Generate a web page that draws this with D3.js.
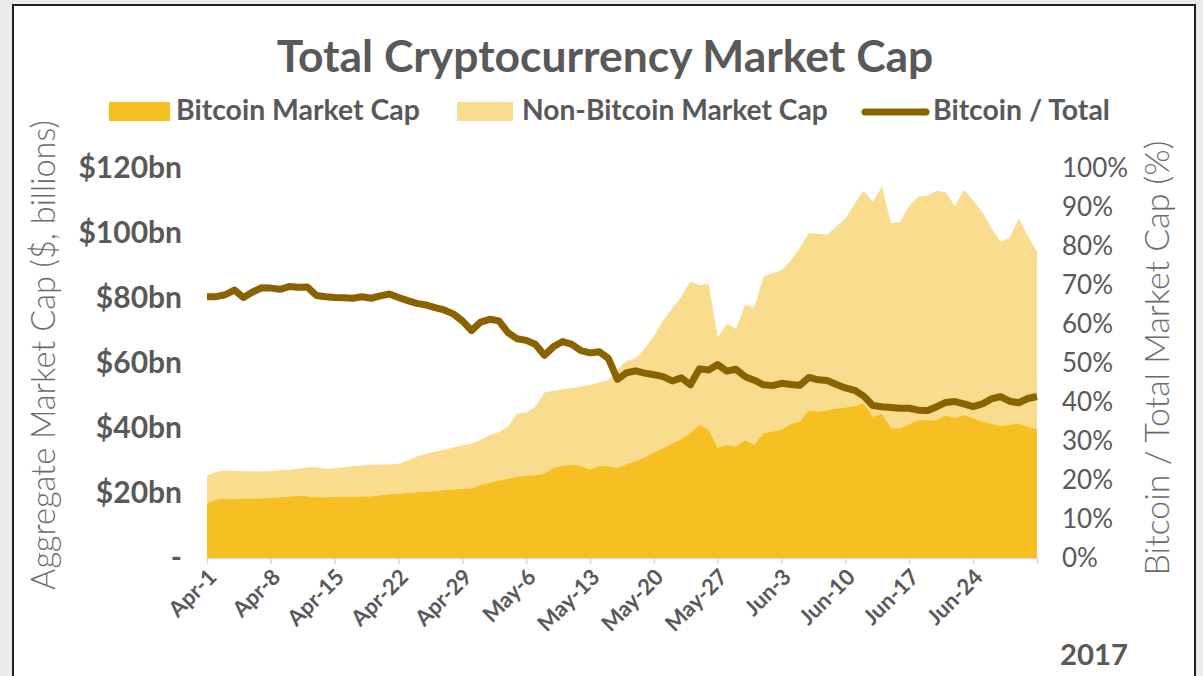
<!DOCTYPE html>
<html>
<head>
<meta charset="utf-8">
<script src="https://cdn.jsdelivr.net/npm/d3@7"></script>
<style>
  html, body { margin: 0; padding: 0; background: #ebebeb; }
  svg { display: block; }
  text { font-family: Lato, "Open Sans", sans-serif; fill: #595959; }
</style>
</head>
<body>
<svg width="1203" height="676"></svg>
<script>
// daily values, Apr-1 2017 .. Jul-1 2017
const startDay = "2017-04-01";

const bitcoinCap = [
  16.8, 18.0, 18.2, 18.2, 18.3, 18.3, 18.4, 18.5, 18.7, 18.9,
  19.1, 19.0, 18.7, 18.7, 18.8, 18.8, 18.8, 18.9, 19.0, 19.3,
  19.6, 19.8, 20.1, 20.2, 20.4, 20.6, 20.9, 21.1, 21.3, 21.5,
  22.5, 23.2, 23.8, 24.4, 25.0, 25.3, 25.5, 26.0, 27.8, 28.4,
  28.8, 28.3, 27.2, 28.3, 28.2, 27.7, 28.9, 29.8, 31.0, 32.5,
  33.8, 35.2, 36.6, 38.5, 41.0, 39.4, 34.0, 34.8, 34.3, 36.3,
  34.8, 38.4, 38.9, 39.5, 41.2, 42.0, 45.5, 45.0, 45.5, 46.0,
  46.3, 46.8, 47.6, 43.5, 44.5, 39.9, 39.9, 41.2, 42.5, 42.4,
  42.4, 44.0, 43.0, 44.0, 43.0, 42.0, 41.3, 40.6, 41.0, 41.4,
  40.4, 39.6
];

const totalCap = [
  25.5, 26.5, 26.9, 26.8, 26.7, 26.7, 26.6, 26.8, 27.0, 27.1,
  27.5, 27.9, 28.0, 27.4, 27.6, 27.9, 28.2, 28.5, 28.7, 28.8,
  28.8, 29.0, 30.0, 31.2, 32.0, 32.7, 33.3, 34.0, 34.7, 35.2,
  36.3, 37.8, 38.8, 40.5, 44.5, 44.8, 46.5, 50.9, 51.5, 51.9,
  52.3, 52.7, 53.2, 54.0, 54.7, 58.0, 60.6, 61.5, 64.5, 68.3,
  73.0, 76.8, 80.5, 85.0, 84.0, 84.3, 68.0, 72.0, 70.5, 78.0,
  77.0, 86.5, 87.6, 88.5, 91.5, 95.5, 100.0, 99.8, 99.5, 102.0,
  104.5, 109.0, 113.0, 109.5, 114.2, 103.0, 103.5, 108.5, 111.2, 111.5,
  113.0, 112.5, 108.3, 113.2, 110.0, 106.5, 101.5, 97.3, 98.5, 104.5,
  99.0, 94.2
];

const bitcoinShare = [
  67.0, 67.0, 67.5, 68.7, 66.8, 68.2, 69.3, 69.2, 68.9, 69.6,
  69.4, 69.5, 67.3, 67.0, 66.8, 66.7, 66.6, 67.0, 66.6, 67.2,
  67.7, 66.8, 66.0, 65.3, 64.9, 64.2, 63.6, 62.6, 60.8, 58.3,
  60.5, 61.2, 60.8, 57.8, 56.2, 55.8, 54.8, 52.0, 54.2, 55.5,
  54.8, 53.2, 52.6, 52.9, 51.2, 45.8, 47.5, 48.0, 47.4, 47.0,
  46.5, 45.4, 46.2, 44.4, 48.5, 48.2, 49.6, 47.9, 48.4, 46.5,
  45.6, 44.4, 44.2, 44.8, 44.5, 44.3, 46.3, 45.7, 45.5, 44.5,
  43.6, 43.0, 41.5, 39.1, 38.8, 38.6, 38.4, 38.4, 37.9, 37.8,
  38.8, 39.9, 40.1, 39.5, 38.8, 39.5, 40.8, 41.4, 40.2, 39.8,
  40.9, 41.4
];

const xTickLabels = ["Apr-1", "Apr-8", "Apr-15", "Apr-22", "Apr-29", "May-6", "May-13",
                     "May-20", "May-27", "Jun-3", "Jun-10", "Jun-17", "Jun-24", ""];
const leftTicks = [0, 20, 40, 60, 80, 100, 120];
const rightTicks = [0, 10, 20, 30, 40, 50, 60, 70, 80, 90, 100];
const legendNames = ["Bitcoin Market Cap", "Non-Bitcoin Market Cap", "Bitcoin / Total"];

const btcColor = "#f6bf22";
const altColor = "#f9dc8e";
const lineColor = "#8a6200";

const svg = d3.select("svg");

// white panel with dark frame
svg.append("rect")
  .attr("x", 13).attr("y", 5)
  .attr("width", 1182).attr("height", 700)
  .attr("fill", "#fff")
  .attr("stroke", "#1e1e1e")
  .attr("stroke-width", 2);

const parse = d3.timeParse("%Y-%m-%d");
const day0 = parse(startDay);
const rows = bitcoinCap.map((b, i) => ({
  date: d3.timeDay.offset(day0, i),
  btc: b,
  total: totalCap[i],
  share: bitcoinShare[i]
}));

const x = d3.scaleTime()
  .domain(d3.extent(rows, d => d.date))
  .range([207, 1037]);
const y = d3.scaleLinear().domain([0, 120]).range([558, 168]);
const yR = d3.scaleLinear().domain([0, 100]).range([558, 168]);

// areas
const g = svg.append("g");
g.append("path")
  .datum(rows)
  .attr("fill", altColor)
  .attr("d", d3.area().x(d => x(d.date)).y0(d => y(d.btc)).y1(d => y(d.total)));
g.append("path")
  .datum(rows)
  .attr("fill", btcColor)
  .attr("d", d3.area().x(d => x(d.date)).y0(y(0)).y1(d => y(d.btc)));

// x axis
const xTicks = xTickLabels.map((t, i) => d3.timeDay.offset(day0, i * 7));
const xAxis = svg.append("g")
  .attr("transform", "translate(0,558)")
  .call(d3.axisBottom(x).tickValues(xTicks).tickSize(6).tickSizeOuter(0)
    .tickFormat((d, i) => xTickLabels[i]));
xAxis.select(".domain").attr("stroke", "#d9d9d9").attr("stroke-width", 1.5);
xAxis.selectAll(".tick line").attr("stroke", "#d9d9d9").attr("stroke-width", 1.5);
xAxis.selectAll(".tick text")
  .attr("text-anchor", "end")
  .attr("transform", "translate(5,15) rotate(-45)")
  .attr("dy", "0.35em")
  .attr("y", 0)
  .attr("x", 0)
  .style("font-size", "22px")
  .style("font-weight", 700)
  .style("fill", "#595959");

// left axis
const yAxis = svg.append("g")
  .attr("transform", "translate(207,0)")
  .call(d3.axisLeft(y).tickValues(leftTicks).tickSize(0).tickPadding(25)
    .tickFormat(d => d === 0 ? "-" : "$" + d + "bn"));
yAxis.select(".domain").remove();
yAxis.selectAll("text").style("font-size", "30px").style("font-weight", 700).style("fill", "#595959");

// right axis
const yAxisR = svg.append("g")
  .attr("transform", "translate(1037,0)")
  .call(d3.axisRight(yR).tickValues(rightTicks).tickSize(0).tickPadding(25)
    .tickFormat(d => d + "%"));
yAxisR.select(".domain").remove();
yAxisR.selectAll("text").style("font-size", "26px").style("font-weight", 400).style("fill", "#595959");

// share line
g.append("path")
  .datum(rows)
  .attr("fill", "none")
  .attr("stroke", lineColor)
  .attr("stroke-width", 7)
  .attr("stroke-linejoin", "round")
  .attr("d", d3.line().x(d => x(d.date)).y(d => yR(d.share)));
svg.node().appendChild(g.node());

// fit a text element to a target width by scaling its font size
function fit(sel, width) {
  const fs = parseFloat(sel.style("font-size"));
  const w = sel.node().getComputedTextLength();
  sel.style("font-size", (fs * width / w) + "px");
}

// title
svg.append("text")
  .attr("x", 605).attr("y", 72)
  .attr("text-anchor", "middle")
  .style("font-size", "38px").style("font-weight", 700)
  .text("Total Cryptocurrency Market Cap")
  .call(fit, 657);

// legend
svg.append("rect").attr("x", 109).attr("y", 102).attr("width", 61).attr("height", 19).attr("fill", btcColor);
svg.append("rect").attr("x", 457).attr("y", 102).attr("width", 56).attr("height", 19).attr("fill", altColor);
svg.append("line")
  .attr("x1", 865).attr("x2", 926).attr("y1", 112).attr("y2", 112)
  .attr("stroke", lineColor).attr("stroke-width", 7).attr("stroke-linecap", "round");
const legendX = [176, 522, 933];
const legendW = [244, 306, 177];
legendNames.forEach((n, i) => {
  svg.append("text")
    .attr("x", legendX[i]).attr("y", 120)
    .style("font-size", "23px").style("font-weight", 700)
    .text(n)
    .call(fit, legendW[i]);
});

// axis titles
svg.append("text")
  .attr("transform", "translate(55,355) rotate(-90)")
  .attr("text-anchor", "middle")
  .style("font-size", "25px").style("font-weight", 300).style("fill", "#6b6b6b")
  .text("Aggregate Market Cap ($, billions)")
  .call(fit, 470);
svg.append("text")
  .attr("transform", "translate(1169,358) rotate(-90)")
  .attr("text-anchor", "middle")
  .style("font-size", "25px").style("font-weight", 300).style("fill", "#6b6b6b")
  .text("Bitcoin / Total Market Cap (%)")
  .call(fit, 435);

// year
svg.append("text")
  .attr("x", 1060).attr("y", 665)
  .style("font-size", "28px").style("font-weight", 700)
  .text("2017")
  .call(fit, 68);
</script>
</body>
</html>
